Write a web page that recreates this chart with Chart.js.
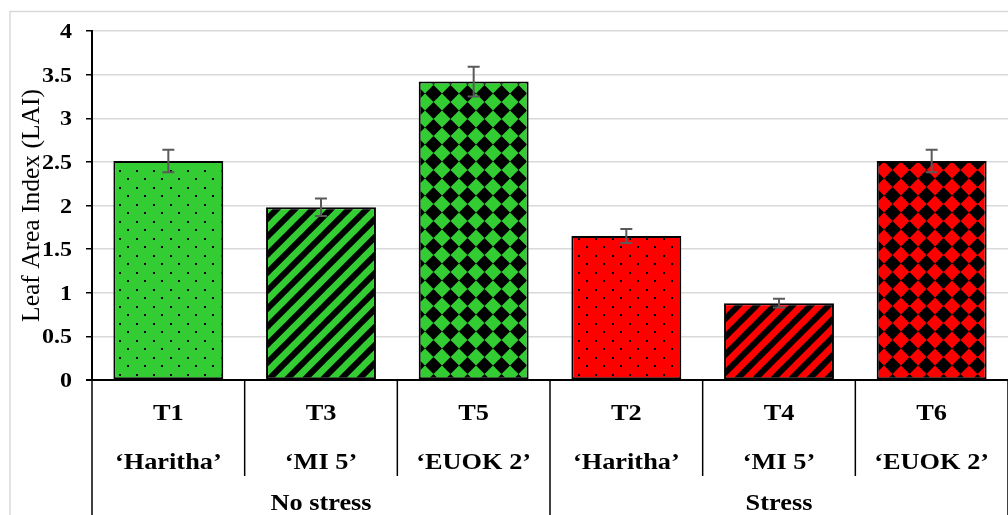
<!DOCTYPE html>
<html>
<head>
<meta charset="utf-8">
<script src="https://cdn.jsdelivr.net/npm/chart.js@4.4.1/dist/chart.umd.min.js"></script>
<style>
  html, body { margin: 0; padding: 0; background: #fff; }
  #wrap { width: 1008px; height: 515px; }
</style>
</head>
<body>
<div id="wrap"><canvas id="lai" width="1008" height="515"></canvas></div>
<script>
// data
const treatments = ['T1', 'T3', 'T5', 'T2', 'T4', 'T6'];
const cultivars = ['\u2018Haritha\u2019', '\u2018MI 5\u2019', '\u2018EUOK 2\u2019', '\u2018Haritha\u2019', '\u2018MI 5\u2019', '\u2018EUOK 2\u2019'];
const groups = ['No stress', 'Stress'];
const groupSize = [3, 3];
const laiValues = [2.51, 1.98, 3.42, 1.65, 0.88, 2.51];
const laiErrors = [0.13, 0.10, 0.17, 0.08, 0.05, 0.13];
const yTicks = [0, 0.5, 1, 1.5, 2, 2.5, 3, 3.5, 4];

const GREEN = '#33cc33';
const RED = '#ff0000';
const barColors = [GREEN, GREEN, GREEN, RED, RED, RED];
const barFills = ['dots', 'stripes', 'checker', 'dots', 'stripes', 'checker'];

const SERIF = '"Liberation Serif", "Times New Roman", serif';

function makePattern(kind, color) {
  const c = document.createElement('canvas');
  const size = kind === 'stripes' ? 18 : 17;
  c.width = size; c.height = size;
  const g = c.getContext('2d');
  g.fillStyle = color;
  g.fillRect(0, 0, size, size);
  g.fillStyle = '#000';
  g.strokeStyle = '#000';
  if (kind === 'dots') {
    g.fillRect(0, 0, 2, 2);
    g.fillRect(8, 8, 2, 2);
  } else if (kind === 'stripes') {
    g.lineWidth = 6;
    for (let k = -1; k <= 1; k++) {
      g.beginPath();
      g.moveTo(k * size - 2, size + 2);
      g.lineTo(k * size + size + 2, -2);
      g.stroke();
    }
  } else {
    const h = size / 2;
    g.beginPath();
    g.moveTo(h, 0);
    g.lineTo(size, h);
    g.lineTo(h, size);
    g.lineTo(0, h);
    g.closePath();
    g.fill();
  }
  const ctx = document.getElementById('lai').getContext('2d');
  return ctx.createPattern(c, 'repeat');
}

function drawText(ctx, txt, x, y, font, align, sx) {
  ctx.save();
  ctx.translate(x, y);
  ctx.scale(sx, 1);
  ctx.font = font;
  ctx.fillStyle = '#000';
  ctx.textAlign = align;
  ctx.textBaseline = 'alphabetic';
  ctx.fillText(txt, 0, 0);
  ctx.restore();
}

const framePlugin = {
  id: 'frame',
  beforeDraw(chart) {
    const ctx = chart.ctx;
    ctx.save();
    ctx.strokeStyle = '#d9d9d9';
    ctx.lineWidth = 1.5;
    ctx.strokeRect(10, 11.5, 1200, 800);
    ctx.restore();
  }
};

const errorBars = {
  id: 'errorBars',
  afterDatasetsDraw(chart) {
    const ctx = chart.ctx;
    const y = chart.scales.y;
    const meta = chart.getDatasetMeta(0);
    ctx.save();
    ctx.strokeStyle = '#5a5a5a';
    ctx.lineWidth = 2;
    meta.data.forEach((bar, i) => {
      const top = y.getPixelForValue(laiValues[i] + laiErrors[i]);
      const bot = y.getPixelForValue(laiValues[i] - laiErrors[i]);
      ctx.beginPath();
      ctx.moveTo(bar.x, top); ctx.lineTo(bar.x, bot);
      ctx.moveTo(bar.x - 6, top); ctx.lineTo(bar.x + 6, top);
      ctx.moveTo(bar.x - 6, bot); ctx.lineTo(bar.x + 6, bot);
      ctx.stroke();
    });
    ctx.restore();
  }
};

const axisLabels = {
  id: 'axisLabels',
  afterDraw(chart) {
    const ctx = chart.ctx;
    const xs = chart.scales.x;
    const ys = chart.scales.y;
    const area = chart.chartArea;
    const H = chart.height;

    // y tick labels
    ys.ticks.forEach(t => {
      const py = ys.getPixelForValue(t.value);
      drawText(ctx, String(t.value), 72, py + 7, 'bold 20px ' + SERIF, 'right', 1.2);
    });

    // y title
    ctx.save();
    ctx.translate(39, (area.top + area.bottom) / 2);
    ctx.rotate(-Math.PI / 2);
    ctx.font = '25.5px ' + SERIF;
    ctx.fillStyle = '#000';
    ctx.textAlign = 'center';
    ctx.fillText('Leaf Area Index (LAI)', 0, 0);
    ctx.restore();

    // category axis lines
    ctx.save();
    ctx.strokeStyle = '#000';
    ctx.lineWidth = 2;
    ctx.beginPath();
    ctx.moveTo(area.left - 6, area.bottom);
    ctx.lineTo(area.right, area.bottom);
    ctx.stroke();
    ctx.lineWidth = 1.5;
    const step = xs.getPixelForValue(1) - xs.getPixelForValue(0);
    let idx = 0;
    const groupEdges = [0];
    groupSize.forEach(n => { idx += n; groupEdges.push(idx); });
    for (let k = 0; k <= treatments.length; k++) {
      const px = xs.getPixelForValue(k) - step / 2;
      const full = groupEdges.includes(k);
      ctx.beginPath();
      ctx.moveTo(px, area.bottom);
      ctx.lineTo(px, full ? H : 476);
      ctx.stroke();
    }
    ctx.restore();

    // category labels
    treatments.forEach((t, i) => {
      const px = xs.getPixelForValue(i);
      drawText(ctx, t, px, 420, 'bold 22.5px ' + SERIF, 'center', 1.17);
      drawText(ctx, cultivars[i], px, 469, 'bold 22.5px ' + SERIF, 'center', 1.17);
    });
    groups.forEach((g, j) => {
      const a = xs.getPixelForValue(groupEdges[j]) - step / 2;
      const b = xs.getPixelForValue(groupEdges[j + 1]) - step / 2;
      drawText(ctx, g, (a + b) / 2, 510, 'bold 22.5px ' + SERIF, 'center', 1.17);
    });
  }
};

function build() {
  const fills = barFills.map((k, i) => makePattern(k, barColors[i]));
  new Chart(document.getElementById('lai'), {
    type: 'bar',
    data: {
      labels: treatments,
      datasets: [{
        data: laiValues,
        backgroundColor: fills,
        borderColor: '#000',
        borderWidth: 2,
        borderSkipped: false,
        categoryPercentage: 0.8,
        barPercentage: 0.9
      }]
    },
    options: {
      responsive: false,
      animation: false,
      layout: { padding: { left: 0, right: 0, top: 31, bottom: 135 } },
      plugins: { legend: { display: false }, tooltip: { enabled: false } },
      scales: {
        x: { display: false },
        y: {
          min: 0,
          max: 4,
          afterBuildTicks(scale) { scale.ticks = yTicks.map(v => ({ value: v })); },
          afterFit(scale) { scale.width = 92; },
          ticks: { display: false, stepSize: 0.5 },
          grid: { color: '#d9d9d9', lineWidth: 1.5, tickColor: '#000', tickLength: 6, tickWidth: 1.5 },
          border: { display: true, color: '#000', width: 2 }
        }
      }
    },
    plugins: [framePlugin, errorBars, axisLabels]
  });
}

if (document.fonts && document.fonts.load) {
  Promise.all([
    document.fonts.load('bold 22px "Liberation Serif"'),
    document.fonts.load('25px "Liberation Serif"')
  ]).then(build, build);
} else {
  build();
}
</script>
</body>
</html>
